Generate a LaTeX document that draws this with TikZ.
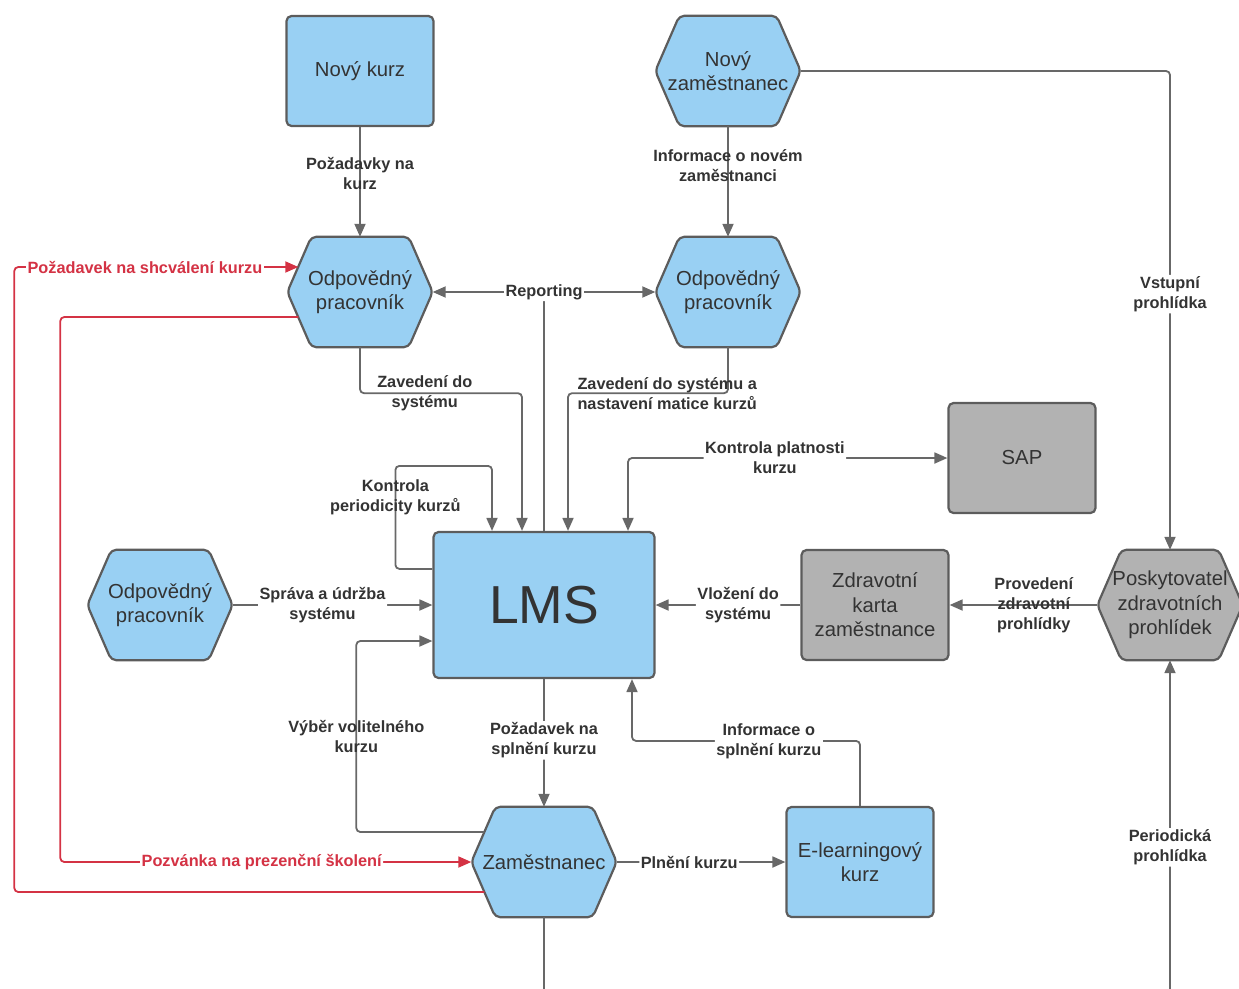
\documentclass[tikz,border=0pt]{standalone}
\usepackage{fontspec}
\setmainfont{Liberation Sans}
\usetikzlibrary{arrows.meta,backgrounds}
\definecolor{boxblue}{RGB}{153,208,243}
\definecolor{boxgray}{RGB}{178,178,178}
\definecolor{edge}{RGB}{92,92,92}
\definecolor{wire}{RGB}{104,104,104}
\definecolor{wirered}{RGB}{212,50,68}
\definecolor{ink}{RGB}{51,51,51}
\tikzset{
  box/.style={
    draw=edge, line width=2.2pt, rounded corners=5pt, fill=boxblue,
    minimum width=147pt, minimum height=110pt, align=center, text=ink,
    font=\fontsize{20.3}{24.5}\selectfont
  },
  hexnode/.style={
    minimum width=145pt, minimum height=110pt, inner sep=0pt,
    align=center, text=ink, font=\fontsize{20.3}{24.5}\selectfont
  },
  flow/.style={
    draw=wire, line width=1.8pt, rounded corners=4pt,
    -{Triangle[length=13pt,width=11pt]}
  },
  flow2/.style={
    flow, {Triangle[length=13pt,width=11pt]}-{Triangle[length=13pt,width=11pt]}
  },
  redflow/.style={flow, draw=wirered},
  lab/.style={
    font=\fontsize{16.3}{20}\selectfont\bfseries, text=ink,
    align=center, inner sep=1.5pt
  },
  labw/.style={lab, fill=white},
  redlab/.style={labw, text=wirered},
}

\begin{document}
\begin{tikzpicture}[x=1pt,y=-1pt]
\useasboundingbox (0,0) rectangle (1239,988);
% nodes
\node[box]     (nk)  at (360,71)  {Nový kurz};
\node[hexnode] (nz)  at (728,71)  {Nový\\zaměstnanec};
\node[hexnode] (opl) at (360,292) {Odpovědný\\pracovník};
\node[hexnode] (opr) at (728,292) {Odpovědný\\pracovník};
\node[box,fill=boxgray] (sap) at (1022,458) {SAP};
\node[box,minimum width=221pt,minimum height=146pt,
  font=\fontsize{53.5}{60}\selectfont] (lms) at (544,605) {LMS};
\node[hexnode] (opf) at (160,605) {Odpovědný\\pracovník};
\node[box,fill=boxgray] (zk) at (875,605) {Zdravotní\\karta\\zaměstnance};
\node[hexnode] (pzp) at (1170,605) {Poskytovatel\\zdravotních\\prohlídek};
\node[hexnode] (zam) at (544,862) {Zaměstnanec};
\node[box]     (el)  at (860,862) {E-learningový\\kurz};
\coordinate (pb) at (1170,992);
\coordinate (zb) at (544,992);
% hexagons behind the texts
\begin{scope}[on background layer]
\foreach \n/\c in {nz/boxblue,opl/boxblue,opr/boxblue,opf/boxblue,zam/boxblue,pzp/boxgray}
  \filldraw[draw=edge,line width=2.2pt,rounded corners=5pt,fill=\c]
    (\n.north) -- ([xshift=-24pt]\n.north east) -- (\n.east)
    -- ([xshift=-24pt]\n.south east) -- ([xshift=24pt]\n.south west)
    -- (\n.west) -- ([xshift=24pt]\n.north west) -- cycle;
\end{scope}
% connectors
\draw[flow] (nk) -- node[lab,pos=0.42]{Požadavky na\\kurz} (opl);
\draw[flow] (nz) -- node[lab,pos=0.36]{Informace o novém\\zaměstnanci} (opr);
\draw[flow] (nz.east) -| node[labw,pos=0.733]{Vstupní\\prohlídka} (pzp.north);
\draw[draw=wire,line width=1.8pt] (lms.north) -- (lms.north |- opl.east);
\draw[flow2] (opl) -- node[labw]{Reporting} (opr);
\draw[flow] (opl.south) -- ++(0,46)
  -| node[lab,pos=0.2]{Zavedení do\\systému} ([xshift=-22pt]lms.north);
\draw[flow] (opr.south) -- ++(0,46)
  -| node[lab,pos=0.19]{Zavedení do systému a\\nastavení matice kurzů} ([xshift=24pt]lms.north);
\draw[flow2] (sap.west)
  -| node[labw,pos=0.27]{Kontrola platnosti\\kurzu} ([xshift=84pt]lms.north);
\draw[flow] ([yshift=-38pt]lms.north west) -- ++(-37,0)
  |- node[lab,pos=0.35]{Kontrola\\periodicity kurzů} ([xshift=-52pt,yshift=65pt]lms.north)
  -- ([xshift=-52pt]lms.north);
\draw[flow] (opf) -- node[labw,pos=0.45]{Správa a údržba\\systému} (lms);
\draw[flow] (zk) -- node[labw,pos=0.43]{Vložení do\\systému} (lms);
\draw[flow] (pzp) -- node[lab,pos=0.43]{Provedení\\zdravotní\\prohlídky} (zk);
\draw[flow] (pb) -- node[labw,pos=0.436]{Periodická\\prohlídka} (pzp.south);
\draw[flow] (lms) -- node[labw,pos=0.48]{Požadavek na\\splnění kurzu} (zam);
\draw[flow] ([xshift=13pt,yshift=30pt]zam.west) -- ++(-128,0)
  |- node[lab,pos=0.25]{Výběr volitelného\\kurzu} ([yshift=-36pt]lms.west);
\draw[flow] (el.north) -- ++(0,-65)
  -| node[labw,pos=0.2]{Informace o\\splnění kurzu} ([xshift=88pt]lms.south);
\draw[flow] (zam) -- node[labw,pos=0.43]{Plnění kurzu} (el);
\draw[draw=wire,line width=1.8pt] (zam.south) -- (zb);
\draw[redflow] ([xshift=11pt,yshift=-25pt]opl.west) -- ++(-238,0)
  |- node[redlab,pos=0.745]{Pozvánka na prezenční školení} (zam.west);
\draw[redflow] ([xshift=13pt,yshift=-30pt]zam.west) -- ++(-470,0)
  |- node[redlab,pos=0.73]{Požadavek na shcválení kurzu} ([xshift=11pt,yshift=25pt]opl.west);
\end{tikzpicture}
\end{document}
